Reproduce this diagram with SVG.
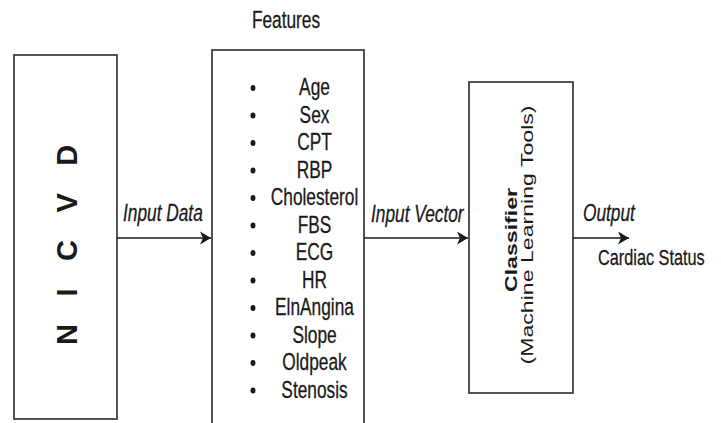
<svg xmlns="http://www.w3.org/2000/svg" width="721" height="423" viewBox="0 0 721 423">
  <style>
    .box { fill: #ffffff; stroke: #2a2a2a; stroke-width: 1.6; }
    .edge { fill: none; stroke: #1a1a1a; stroke-width: 1.6; }
    .t { font-family: "Liberation Sans", Arial, sans-serif; fill: #1a1a1a; }
    .item { font-size: 23.5px; text-anchor: middle; stroke: #1a1a1a; stroke-width: 0.3; }
    .lbl { font-size: 23.5px; font-style: italic; stroke: #1a1a1a; stroke-width: 0.3; }
    .dot { fill: #1a1a1a; }
  </style>
  <defs>
    <marker id="arrow" markerUnits="userSpaceOnUse" markerWidth="14" markerHeight="16" refX="12" refY="7" orient="auto" viewBox="0 0 14 14">
      <path d="M12,7 L1,0.5 L4,7 L1,13.5 Z" fill="#1a1a1a"/>
    </marker>
  </defs>
  <rect width="721" height="423" fill="#ffffff"/>

  <!-- Data source: NICVD -->
  <g id="nicvd">
    <rect class="box" x="14" y="55" width="103" height="364"/>
    <text class="t" font-size="29" font-weight="bold" letter-spacing="27.5" transform="translate(77,345) rotate(-90)">NICVD</text>
  </g>

  <!-- Feature list -->
  <g id="features">
    <text class="t item" transform="translate(286,28) scale(0.736,1)">Features</text>
    <rect class="box" x="212" y="50" width="152" height="385"/>
    <g>
      <ellipse class="dot" cx="253" cy="88" rx="2.5" ry="3"/>
      <ellipse class="dot" cx="253" cy="115.5" rx="2.5" ry="3"/>
      <ellipse class="dot" cx="253" cy="143" rx="2.5" ry="3"/>
      <ellipse class="dot" cx="253" cy="170.5" rx="2.5" ry="3"/>
      <ellipse class="dot" cx="253" cy="198" rx="2.5" ry="3"/>
      <ellipse class="dot" cx="253" cy="225.5" rx="2.5" ry="3"/>
      <ellipse class="dot" cx="253" cy="253" rx="2.5" ry="3"/>
      <ellipse class="dot" cx="253" cy="280.5" rx="2.5" ry="3"/>
      <ellipse class="dot" cx="253" cy="308" rx="2.5" ry="3"/>
      <ellipse class="dot" cx="253" cy="335.5" rx="2.5" ry="3"/>
      <ellipse class="dot" cx="253" cy="363" rx="2.5" ry="3"/>
      <ellipse class="dot" cx="253" cy="390.5" rx="2.5" ry="3"/>
    </g>
    <text class="t item" transform="translate(314.5,95) scale(0.736,1)">Age</text>
    <text class="t item" transform="translate(314.5,122.5) scale(0.736,1)">Sex</text>
    <text class="t item" transform="translate(314.5,150) scale(0.736,1)">CPT</text>
    <text class="t item" transform="translate(314.5,177.5) scale(0.736,1)">RBP</text>
    <text class="t item" transform="translate(314.5,205) scale(0.736,1)">Cholesterol</text>
    <text class="t item" transform="translate(314.5,232.5) scale(0.736,1)">FBS</text>
    <text class="t item" transform="translate(314.5,260) scale(0.736,1)">ECG</text>
    <text class="t item" transform="translate(314.5,287.5) scale(0.736,1)">HR</text>
    <text class="t item" transform="translate(314.5,315) scale(0.736,1)">ElnAngina</text>
    <text class="t item" transform="translate(314.5,342.5) scale(0.736,1)">Slope</text>
    <text class="t item" transform="translate(314.5,370) scale(0.736,1)">Oldpeak</text>
    <text class="t item" transform="translate(314.5,397.5) scale(0.736,1)">Stenosis</text>
  </g>

  <!-- Classifier -->
  <g id="classifier">
    <rect class="box" x="469" y="82" width="104" height="311"/>
    <text class="t" font-size="17" font-weight="bold" text-anchor="middle" transform="translate(517,240) rotate(-90) scale(1.36,1)">Classifier</text>
    <text class="t" font-size="17" text-anchor="middle" transform="translate(532.5,235) rotate(-90) scale(1.36,1)">(Machine Learning Tools)</text>
  </g>

  <!-- Output label -->
  <g id="cardiac-status">
    <text class="t" font-size="22" stroke="#1a1a1a" stroke-width="0.3" transform="translate(598,265) scale(0.74,1)">Cardiac Status</text>
  </g>

  <!-- Connectors -->
  <g id="connectors">
    <line class="edge" x1="117" y1="238" x2="211" y2="238" marker-end="url(#arrow)"/>
    <line class="edge" x1="364" y1="238" x2="468" y2="238" marker-end="url(#arrow)"/>
    <line class="edge" x1="573" y1="238" x2="629" y2="238" marker-end="url(#arrow)"/>
    <text class="t lbl" transform="translate(123,221) scale(0.736,1)">Input Data</text>
    <text class="t lbl" transform="translate(371,222) scale(0.736,1)">Input Vector</text>
    <text class="t lbl" transform="translate(583,221) scale(0.736,1)">Output</text>
  </g>
</svg>
